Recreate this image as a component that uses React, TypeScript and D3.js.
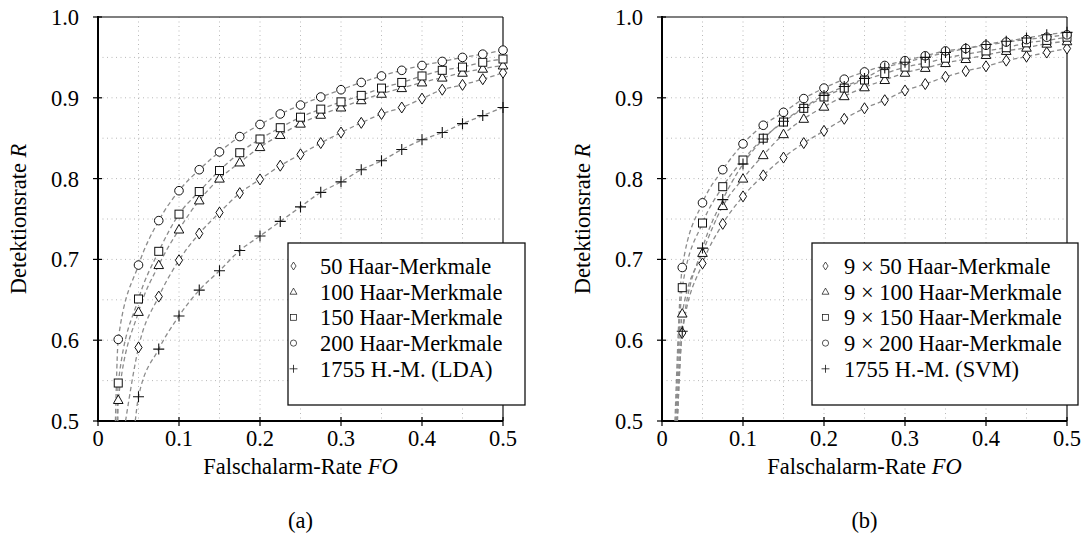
import * as d3 from "d3";
import React from "react";

// false alarm rate FO, shared x positions of all markers
const fo = [
  0.025, 0.05, 0.075, 0.1, 0.125, 0.15, 0.175, 0.2, 0.225, 0.25,
  0.275, 0.3, 0.325, 0.35, 0.375, 0.4, 0.425, 0.45, 0.475, 0.5,
];

// (a) cascades with LDA reference
const haar50 = [null, 0.591, 0.654, 0.699, 0.732, 0.758, 0.782, 0.799, 0.816, 0.83, 0.844, 0.857, 0.869, 0.88, 0.888, 0.899, 0.91, 0.916, 0.923, 0.931];
const haar100 = [0.526, 0.635, 0.693, 0.737, 0.773, 0.8, 0.82, 0.839, 0.854, 0.868, 0.879, 0.888, 0.897, 0.905, 0.912, 0.919, 0.925, 0.931, 0.936, 0.94];
const haar150 = [0.547, 0.651, 0.71, 0.756, 0.784, 0.81, 0.832, 0.849, 0.863, 0.876, 0.886, 0.895, 0.903, 0.912, 0.919, 0.927, 0.934, 0.938, 0.944, 0.948];
const haar200 = [0.601, 0.693, 0.748, 0.785, 0.811, 0.833, 0.852, 0.867, 0.88, 0.891, 0.901, 0.91, 0.919, 0.927, 0.934, 0.94, 0.945, 0.95, 0.954, 0.959];
const lda1755 = [null, 0.53, 0.589, 0.63, 0.662, 0.686, 0.711, 0.729, 0.747, 0.765, 0.783, 0.796, 0.811, 0.822, 0.836, 0.848, 0.857, 0.868, 0.878, 0.888];
// FO where each fitted curve leaves the bottom edge (R = 0.5)
const startA = [0.034, 0.0245, 0.0235, 0.0215, 0.046];

// (b) 9 sub-classifiers with SVM reference
const nine50 = [0.609, 0.695, 0.744, 0.778, 0.804, 0.826, 0.844, 0.859, 0.874, 0.887, 0.897, 0.909, 0.917, 0.926, 0.933, 0.939, 0.946, 0.951, 0.956, 0.961];
const nine100 = [0.633, 0.708, 0.766, 0.8, 0.829, 0.855, 0.874, 0.889, 0.902, 0.913, 0.922, 0.931, 0.937, 0.943, 0.948, 0.953, 0.958, 0.962, 0.967, 0.97];
const nine150 = [0.665, 0.745, 0.79, 0.823, 0.85, 0.87, 0.887, 0.901, 0.912, 0.922, 0.93, 0.938, 0.943, 0.949, 0.954, 0.958, 0.962, 0.968, 0.971, 0.975];
const nine200 = [0.69, 0.77, 0.811, 0.843, 0.866, 0.882, 0.899, 0.912, 0.923, 0.932, 0.94, 0.946, 0.952, 0.958, 0.961, 0.965, 0.969, 0.972, 0.975, 0.978];
const svm1755 = [0.611, 0.714, 0.774, 0.818, 0.849, 0.871, 0.888, 0.903, 0.914, 0.924, 0.937, 0.944, 0.95, 0.956, 0.961, 0.966, 0.97, 0.974, 0.978, 0.981];
const startB = [0.019, 0.018, 0.017, 0.016, 0.019];

const labelsA = ["50 Haar-Merkmale", "100 Haar-Merkmale", "150 Haar-Merkmale", "200 Haar-Merkmale", "1755 H.-M. (LDA)"];
const labelsB = ["9 × 50 Haar-Merkmale", "9 × 100 Haar-Merkmale", "9 × 150 Haar-Merkmale", "9 × 200 Haar-Merkmale", "1755 H.-M. (SVM)"];
const shapes = ["diamond", "triangle", "square", "circle", "plus"];

const xTicks = [0, 0.1, 0.2, 0.3, 0.4, 0.5];
const yTicks = [0.5, 0.6, 0.7, 0.8, 0.9, 1.0];
const gridSteps = [0.05, 0.1, 0.15, 0.2, 0.25, 0.3, 0.35, 0.4, 0.45];
const gridStepsY = [0.55, 0.6, 0.65, 0.7, 0.75, 0.8, 0.85, 0.9, 0.95];

const fs = 22.5;

const Marker = ({ shape, x, y, s = 1 }) => {
  const common = { stroke: "#111", strokeWidth: 1, fill: "white" };
  const t = `translate(${x},${y}) scale(${s})`;
  if (shape === "circle") return <circle transform={t} r={4.3} {...common} />;
  if (shape === "square") return <rect transform={t} x={-4} y={-4} width={8} height={8} {...common} />;
  if (shape === "triangle") return <path transform={t} d="M0,-5L4.8,3.5L-4.8,3.5Z" {...common} />;
  if (shape === "diamond") return <path transform={t} d="M0,-5.5L3.6,0L0,5.5L-3.6,0Z" {...common} />;
  return <path transform={t} d="M-5.5,0H5.5M0,-5.5V5.5" stroke="#111" strokeWidth={1.1} fill="none" />;
};

const Panel = ({ left, series, starts, labels, legendX, legendW, caption, id }) => {
  const top = 17;
  const bottom = 421;
  const w = 405;
  const x = d3.scaleLinear().domain([0, 0.5]).range([left, left + w]);
  const y = d3.scaleLinear().domain([0.5, 1]).range([bottom, top]);
  const line = d3
    .line()
    .x((d) => x(d[0]))
    .y((d) => y(d[1]))
    .curve(d3.curveMonotoneX);

  return (
    <g>
      <clipPath id={id}>
        <rect x={left} y={top} width={w} height={bottom - top} />
      </clipPath>
      {gridSteps.map((g) => (
        <line key={"gx" + g} x1={x(g)} x2={x(g)} y1={top} y2={bottom} stroke="#b8b8b8" strokeWidth={1} strokeDasharray="1 3.5" />
      ))}
      {gridStepsY.map((g) => (
        <line key={"gy" + g} x1={left} x2={left + w} y1={y(g)} y2={y(g)} stroke="#b8b8b8" strokeWidth={1} strokeDasharray="1 3.5" />
      ))}
      <line x1={left} x2={left + w} y1={top} y2={top} stroke="#555" strokeWidth={1.6} />
      <line x1={left + w} x2={left + w} y1={top} y2={bottom} stroke="#111" strokeWidth={1.2} />
      <line x1={left} x2={left} y1={top - 1} y2={bottom + 1} stroke="#000" strokeWidth={2} />
      <line x1={left - 1} x2={left + w} y1={bottom} y2={bottom} stroke="#000" strokeWidth={2} />
      {xTicks.map((t) => (
        <g key={"xt" + t}>
          <line x1={x(t)} x2={x(t)} y1={bottom - 4} y2={bottom + 5} stroke="#000" strokeWidth={1.2} />
          <text x={x(t)} y={bottom + 25} textAnchor="middle" fontSize={fs}>
            {t === 0 ? "0" : t.toFixed(1)}
          </text>
        </g>
      ))}
      {yTicks.map((t) => (
        <g key={"yt" + t}>
          <line x1={left - 5} x2={left + 4} y1={y(t)} y2={y(t)} stroke="#000" strokeWidth={1.2} />
          <text x={left - 19} y={y(t) + 8} textAnchor="end" fontSize={fs}>
            {t.toFixed(1)}
          </text>
        </g>
      ))}
      <g clipPath={`url(#${id})`}>
        {series.map((vals, i) => {
          const pts = [[starts[i], 0.5]].concat(
            fo.map((f, j) => [f, vals[j]]).filter((d) => d[1] !== null)
          );
          return <path key={"l" + i} d={line(pts)} fill="none" stroke="#8c8c8c" strokeWidth={1.3} strokeDasharray="4.5 3" />;
        })}
      </g>
      {series.map((vals, i) =>
        fo.map((f, j) =>
          vals[j] === null ? null : <Marker key={`m${i}-${j}`} shape={shapes[i]} x={x(f)} y={y(vals[j])} />
        )
      )}
      <rect x={legendX} y={243} width={legendW} height={162} fill="white" stroke="#111" strokeWidth={1.3} />
      {labels.map((lab, i) => (
        <g key={"lg" + i}>
          <Marker shape={shapes[i]} x={legendX + (id === "cA" ? 5.5 : 13.5)} y={266 + i * 25.7} s={0.72} />
          <text x={legendX + 32} y={266 + i * 25.7 + 8} fontSize={fs}>
            {lab}
          </text>
        </g>
      ))}
      <text
        transform={`translate(${left - 72},${(top + bottom) / 2}) rotate(-90)`}
        textAnchor="middle"
        fontSize={fs}
      >
        Detektionsrate <tspan fontStyle="italic">R</tspan>
      </text>
      <text x={left + w / 2} y={bottom + 53} textAnchor="middle" fontSize={fs}>
        Falschalarm-Rate <tspan fontStyle="italic">FO</tspan>
      </text>
      <text x={left + w / 2} y={bottom + 107} textAnchor="middle" fontSize={fs}>
        {caption}
      </text>
    </g>
  );
};

export default function App() {
  return (
    <svg
      width={1089}
      height={550}
      style={{
        position: "absolute",
        left: 0,
        top: 0,
        background: "white",
        fontFamily: '"Liberation Serif", "DejaVu Serif", serif',
      }}
    >
      <Panel
        id="cA"
        left={98}
        series={[haar50, haar100, haar150, haar200, lda1755]}
        starts={startA}
        labels={labelsA}
        legendX={288}
        legendW={237}
        caption="(a)"
      />
      <Panel
        id="cB"
        left={662}
        series={[nine50, nine100, nine150, nine200, svm1755]}
        starts={startB}
        labels={labelsB}
        legendX={812}
        legendW={266}
        caption="(b)"
      />
    </svg>
  );
}
